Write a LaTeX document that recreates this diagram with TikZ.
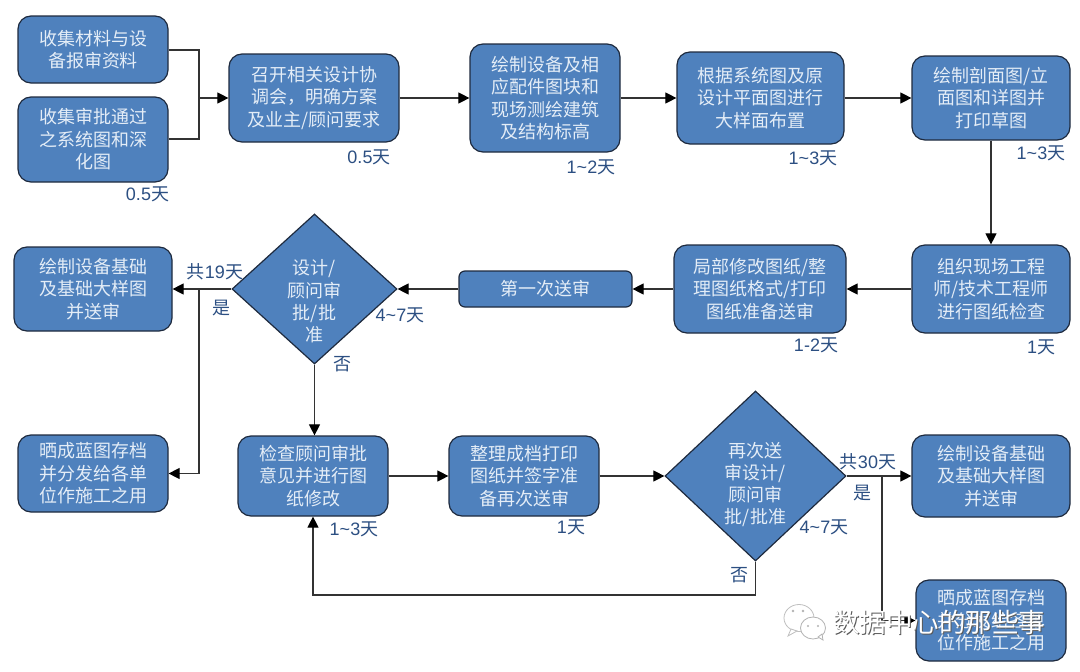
\documentclass[tikz,border=0pt]{standalone}
\usepackage{fontspec}
\usetikzlibrary{arrows.meta,shapes.geometric}
\setmainfont{Noto Sans CJK SC}
\newfontfamily\latf{Liberation Sans}
\newcommand{\nm}[1]{{\latf #1}}
\definecolor{boxfill}{HTML}{4F81BD}
\definecolor{boxline}{HTML}{1E2A3E}
\definecolor{boxtext}{HTML}{E4EDF7}
\definecolor{labtext}{HTML}{2C4F82}
\tikzset{
  x=1pt,y=-1pt,
  flowbox/.style={draw=boxline,line width=1.2pt,fill=boxfill,rounded corners=13pt,inner sep=0pt,text=boxtext,align=center,
    font=\fontsize{18}{22.5}\selectfont},
  flowdia/.style={diamond,draw=boxline,line width=1.2pt,fill=boxfill,inner sep=0pt},
  diatext/.style={text=boxtext,align=center,inner sep=0pt,font=\fontsize{18}{22.3}\selectfont},
  daylab/.style={text=labtext,inner sep=0pt,font=\fontsize{18}{20}\selectfont},
  link/.style={draw=black!80,line width=1.15pt},
  flow/.style={link,-{Triangle[length=11pt,width=11pt,color=black]}},
}
\begin{document}
\begin{tikzpicture}
\useasboundingbox (0,0) rectangle (1080,672);
% boxes
\node[flowbox,minimum width=150pt,minimum height=67pt] (b1) at (93,49.5) {收集材料与设\\备报审资料};
\node[flowbox,minimum width=150pt,minimum height=85pt] (b2) at (93,139.5) {收集审批通过\\之系统图和深\\化图};
\node[flowbox,minimum width=170pt,minimum height=88pt] (b3) at (314,98) {召开相关设计协\\调会，明确方案\\及业主/顾问要求};
\node[flowbox,minimum width=150pt,minimum height=108pt] (b4) at (545,98) {绘制设备及相\\应配件图块和\\现场测绘建筑\\及结构标高};
\node[flowbox,minimum width=167pt,minimum height=92pt] (b5) at (760.5,98) {根据系统图及原\\设计平面图进行\\大样面布置};
\node[flowbox,minimum width=158pt,minimum height=84pt] (b6) at (991,98) {绘制剖面图/立\\面图和详图并\\打印草图};
\node[flowbox,minimum width=158pt,minimum height=88pt] (b7) at (991,289) {组织现场工程\\师/技术工程师\\进行图纸检查};
\node[flowbox,minimum width=172pt,minimum height=88pt] (b8) at (760,289) {局部修改图纸/整\\理图纸格式/打印\\图纸准备送审};
\node[flowbox,rounded corners=6pt,minimum width=173pt,minimum height=36pt] (b9) at (545.5,289) {第一次送审};
\node[flowdia,minimum width=165pt,minimum height=150pt] (d1) at (314.5,289) {};
\node[diatext] (d1t) at (314.5,301.5) {设计/\\顾问审\\批/批\\准};
\node[flowbox,minimum width=158pt,minimum height=84pt] (b10) at (93,289) {绘制设备基础\\及基础大样图\\并送审};
\node[flowbox,minimum width=150pt,minimum height=77pt] (b11) at (93,473.5) {晒成蓝图存档\\并分发给各单\\位作施工之用};
\node[flowbox,minimum width=150pt,minimum height=80pt] (b12) at (313,476) {检查顾问审批\\意见并进行图\\纸修改};
\node[flowbox,minimum width=150pt,minimum height=80pt] (b13) at (524,476) {整理成档打印\\图纸并签字准\\备再次送审};
\node[flowdia,minimum width=181pt,minimum height=170pt] (d2) at (755.5,476) {};
\node[diatext] (d2t) at (755.5,484.5) {再次送\\审设计/\\顾问审\\批/批准};
\node[flowbox,minimum width=158pt,minimum height=82pt] (b14) at (991,476) {绘制设备基础\\及基础大样图\\并送审};
\node[flowbox,minimum width=150pt,minimum height=81pt] (b15) at (991,620.5) {晒成蓝图存档\\并分发给各单\\位作施工之用};
% junctions
\coordinate (j1) at (199,98);
\coordinate (j2) at (199,289);
\coordinate (j3) at (882,476);
\coordinate (j4) at (755.5,595);
\coordinate (j5) at (313,595);
% connectors
\draw[link] (b1.east |- 0,50) -| (j1);
\draw[link] (b2.east |- 0,139) -| (j1);
\draw[flow] (j1) -- (b3.west);
\draw[flow] (b3) -- (b4);
\draw[flow] (b4) -- (b5);
\draw[flow] (b5) -- (b6);
\draw[flow] (b6) -- (b7);
\draw[flow] (b7) -- (b8);
\draw[flow] (b8) -- (b9);
\draw[flow] (b9) -- (d1.east);
\draw[flow] (d1.west) -- (b10.east);
\draw[flow] (j2) |- (b11.east);
\draw[flow] (d1.south) -- (d1.south |- b12.north);
\draw[flow] (b12) -- (b13);
\draw[flow] (b13) -- (d2.west);
\draw[flow] (d2.east) -- (b14.west);
\draw[flow] (j3) |- (b15.west);
\draw[flow] (d2.south) -- (j4) -- (j5) -- (b12.south);
% labels
\node[daylab] (l1) at (147.5,194) {\nm{0.5}天};
\node[daylab] (l2) at (369,157) {\nm{0.5}天};
\node[daylab] (l3) at (591,167) {\nm{1\textasciitilde2}天};
\node[daylab] (l4) at (813,158) {\nm{1\textasciitilde3}天};
\node[daylab] (l5) at (1041,153) {\nm{1\textasciitilde3}天};
\node[daylab] (l6) at (1041,347) {\nm{1}天};
\node[daylab] (l7) at (816,345) {\nm{1-2}天};
\node[daylab] (l8) at (400,315) {\nm{4\textasciitilde7}天};
\node[daylab] (l9) at (342,364) {否};
\node[daylab] (l10) at (221,308) {是};
\node[daylab] (l11) at (215,272) {共\nm{19}天};
\node[daylab] (l12) at (354,529) {\nm{1\textasciitilde3}天};
\node[daylab] (l13) at (571,527) {\nm{1}天};
\node[daylab] (l14) at (824,527) {\nm{4\textasciitilde7}天};
\node[daylab] (l15) at (868,462) {共\nm{30}天};
\node[daylab] (l16) at (862,493) {是};
\node[daylab] (l17) at (739,575) {否};
% watermark
\fill[white,draw=black!25,line width=.8pt] (799,618) ellipse (15 and 13.5);
\fill[white,draw=black!25,line width=.8pt] (791,629) -- (788,636) -- (797,631) -- cycle;
\fill[white,draw=black!30,line width=.8pt] (813,628) ellipse (12.5 and 11);
\fill[white,draw=black!30,line width=.8pt] (818,637) -- (823,640) -- (822,634) -- cycle;
\fill[black!30] (793,611) circle (1.3) (803,611) circle (1.3) (808,626) circle (1.2) (818,626) circle (1.2);
\node[inner sep=0pt,text=black!65,font=\fontsize{26.5}{28}\selectfont] (wms) at (940,623.8) {数据中心的那些事};
\node[inner sep=0pt,text=white,font=\fontsize{26.5}{28}\selectfont] (wm) at (939,622.8) {数据中心的那些事};
\end{tikzpicture}
\end{document}
